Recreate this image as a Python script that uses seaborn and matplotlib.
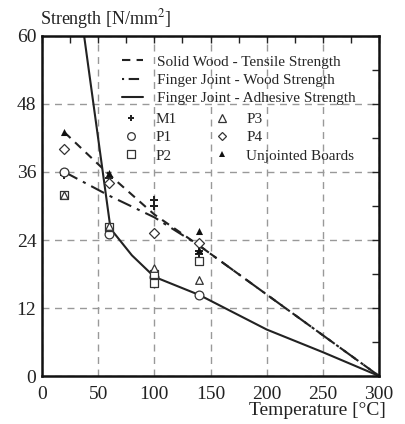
import numpy as np
import pandas as pd
import matplotlib
matplotlib.use("Agg")
import matplotlib.pyplot as plt
import seaborn as sns
from matplotlib.lines import Line2D
from matplotlib.ticker import MultipleLocator

# ---- data ----
T_solid = [20, 60, 100, 140, 300]
S_solid = [43, 35.5, 28.5, 23, 0]
T_fjwood = [20, 60, 100, 140, 300]
S_fjwood = [36, 31.8, 28, 23, 0]
T_adh = [37.5, 61, 80, 100, 140, 200, 250, 300]
S_adh = [60, 26, 21.3, 17.5, 14.3, 8.2, 4.2, 0]

M1_T = [20, 60, 100, 100, 140, 140]
M1_S = [35.5, 35, 31, 30, 22, 21.5]
P1_T = [20, 60, 100, 140]
P1_S = [36, 25, 17.5, 14.3]
P2_T = [20, 60, 100, 100, 140]
P2_S = [32, 26.3, 18, 16.5, 20.3]
P3_T = [20, 60, 100, 140]
P3_S = [32, 26.5, 19, 17]
P4_T = [20, 60, 100, 140]
P4_S = [40, 34, 25.3, 23.5]
UB_T = [20, 60, 140, 140]
UB_S = [43, 35.8, 25.6, 22.2]

line_labels = ["Solid Wood - Tensile Strength", "Finger Joint - Wood Strength",
               "Finger Joint - Adhesive Strength"]
mk_labels = ["M1", "P1", "P2", "P3", "P4", "Unjointed Boards"]

sns.set_style("white")
plt.rcParams['font.family'] = ['Liberation Serif', 'DejaVu Serif']
plt.rcParams['mathtext.fontset'] = 'stix'

fig = plt.figure(figsize=(4.05, 4.24), dpi=100)
ax = fig.add_axes([0.1037, 0.1132, 0.8323, 0.8019])

lines_df = pd.concat([
    pd.DataFrame({"T": T_solid, "S": S_solid, "series": line_labels[0]}),
    pd.DataFrame({"T": T_fjwood, "S": S_fjwood, "series": line_labels[1]}),
    pd.DataFrame({"T": T_adh, "S": S_adh, "series": line_labels[2]}),
])
styles = {line_labels[0]: (0, (4, 3)), line_labels[1]: (0, (7, 3, 1.5, 3)),
          line_labels[2]: "-"}
leg_styles = {line_labels[0]: (0, (4, 3)), line_labels[1]: (0, (1, 2.2, 5, 2)),
              line_labels[2]: "-"}
for lab in line_labels:
    sub = lines_df[lines_df.series == lab]
    sns.lineplot(data=sub, x="T", y="S", ax=ax, color="#222222", lw=1.5,
                 linestyle=styles[lab], sort=False, estimator=None, legend=False)

mk_kw = dict(ax=ax, legend=False, zorder=5)
sns.scatterplot(x=M1_T, y=M1_S, marker="P", s=28, color="#222222", edgecolor="#222222", linewidth=0, **mk_kw)
sns.scatterplot(x=P1_T, y=P1_S, marker="o", s=40, facecolor="white", edgecolor="#333333", linewidth=0.9, **mk_kw)
sns.scatterplot(x=P2_T, y=P2_S, marker="s", s=36, facecolor="white", edgecolor="#333333", linewidth=0.9, **mk_kw)
sns.scatterplot(x=P3_T, y=P3_S, marker="^", s=30, facecolor="white", edgecolor="#333333", linewidth=0.9, **mk_kw)
sns.scatterplot(x=P4_T, y=P4_S, marker="D", s=26, facecolor="white", edgecolor="#333333", linewidth=0.9, **mk_kw)
sns.scatterplot(x=UB_T, y=UB_S, marker="^", s=26, color="#111111", edgecolor="#111111", linewidth=0, **mk_kw)

ax.set_xlim(0, 300)
ax.set_ylim(0, 60)
ax.xaxis.set_major_locator(MultipleLocator(50))
ax.xaxis.set_minor_locator(MultipleLocator(25))
ax.yaxis.set_major_locator(MultipleLocator(12))
ax.yaxis.set_minor_locator(MultipleLocator(6))
ax.tick_params(which="both", direction="in", top=True, right=True,
               labelsize=14, colors="#222222")
ax.tick_params(axis="x", which="major", pad=7)
ax.tick_params(axis="y", which="major", pad=4)
ax.tick_params(which="major", length=5, width=1)
ax.tick_params(which="minor", length=5, width=1)
ax.grid(True, which="major", linestyle=(0, (5, 4)), color="#999999", lw=1.0)
for sp in ax.spines.values():
    sp.set_linewidth(1.8)
    sp.set_color("#111111")
ax.set_xlabel("")
ax.set_ylabel("")

fig.text(0.262, 0.927, "Strength [N/mm$^2$]", fontsize=13, ha="center", va="bottom", color="#222222")
fig.text(0.952, 0.012, "Temperature [°C]", fontsize=14, ha="right", va="bottom", color="#222222")

h_lines = [Line2D([], [], color="#222222", lw=1.5, linestyle=leg_styles[l]) for l in line_labels]
leg1 = ax.legend(h_lines, line_labels, loc="upper left", bbox_to_anchor=(0.218, 0.962),
                 frameon=False, fontsize=11, handlelength=1.4, handletextpad=0.9,
                 labelspacing=0.3, borderaxespad=0)
ax.add_artist(leg1)
h_mk = [
    Line2D([], [], marker="P", color="#222222", ls="", ms=5, mew=0),
    Line2D([], [], marker="o", mfc="white", mec="#333333", ls="", ms=5.5, mew=0.9),
    Line2D([], [], marker="s", mfc="white", mec="#333333", ls="", ms=5.5, mew=0.9),
    Line2D([], [], marker="^", mfc="white", mec="#333333", ls="", ms=5.5, mew=0.9),
    Line2D([], [], marker="D", mfc="white", mec="#333333", ls="", ms=4.5, mew=0.9),
    Line2D([], [], marker="^", color="#111111", ls="", ms=5, mew=0),
]
ax.legend(h_mk, mk_labels, loc="upper left", bbox_to_anchor=(0.213, 0.793), ncol=2,
          frameon=False, fontsize=11, handlelength=1.4, handletextpad=0.9,
          labelspacing=0.3, columnspacing=2.27, borderaxespad=0)

fig.savefig("out.png", dpi=100)
